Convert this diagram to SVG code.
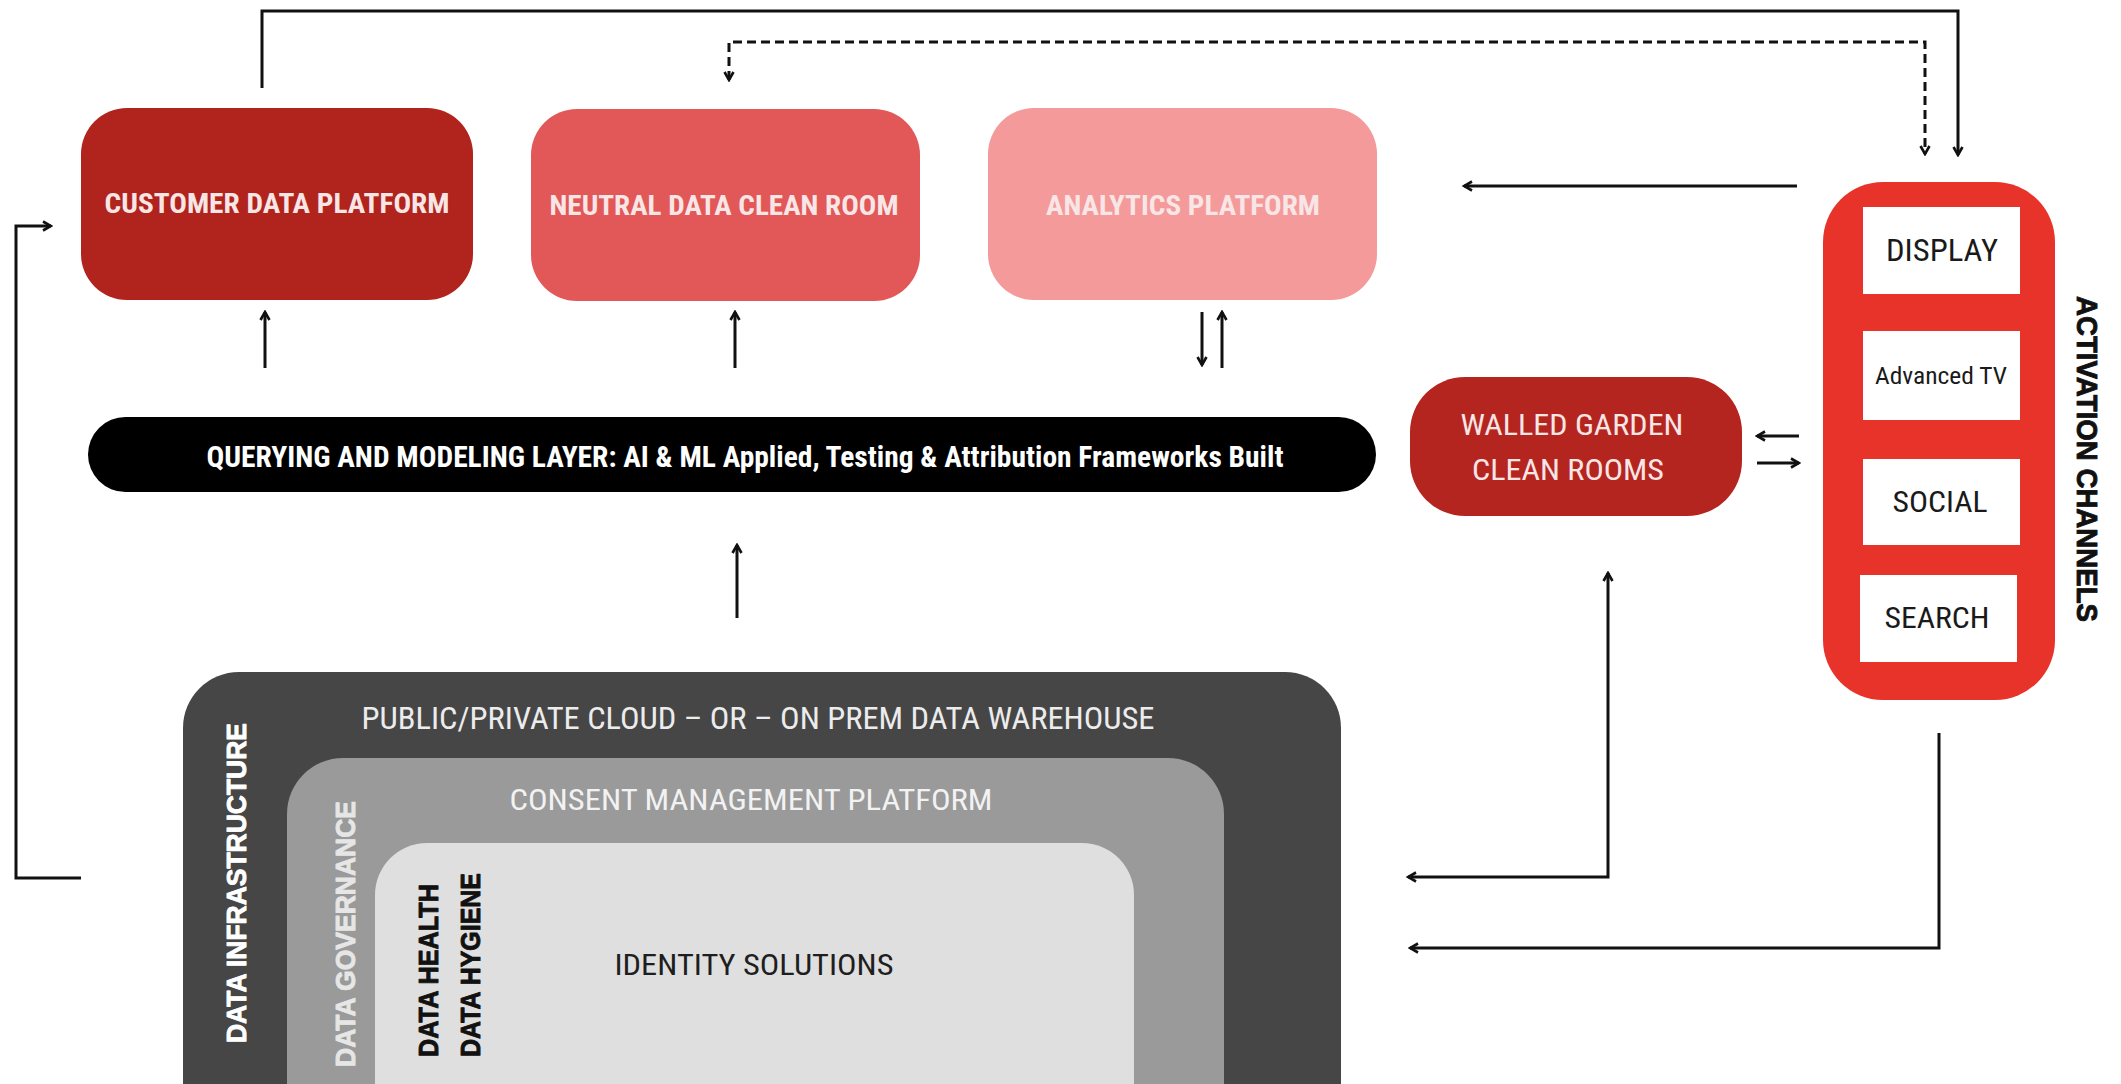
<svg xmlns="http://www.w3.org/2000/svg" width="2121" height="1084" viewBox="0 0 2121 1084">
  <defs>
    <marker id="arrow" viewBox="0 0 12 12" refX="10" refY="6" markerWidth="12" markerHeight="12" markerUnits="userSpaceOnUse" orient="auto-start-reverse">
      <path d="M2,1.5 L10,6 L2,10.5" fill="none" stroke="#111" stroke-width="2.6" stroke-linejoin="miter"/>
    </marker>
  </defs>
  <style>
    .cond { font-family: "Roboto Condensed", "Liberation Sans Narrow", Roboto, "Liberation Sans", sans-serif; }
    .bold { font-weight: 700; }
    .wide { font-family: "Liberation Sans", Arial, sans-serif; font-weight: 700; stroke-width: 0.9px; stroke-linejoin: round; }
    .pale { fill: #f8e6e6; }
    .line { fill: none; stroke: #111; stroke-width: 3; }
    .dash { fill: none; stroke: #111; stroke-width: 3; stroke-dasharray: 9 5; }
    .chan { fill: #ffffff; }
  </style>

  <rect width="2121" height="1084" fill="#ffffff"/>

  <!-- top row platforms -->
  <g id="customer-data-platform">
    <rect x="81" y="108" width="392" height="192" rx="46" fill="#b1231d"/>
    <text class="cond bold pale" x="277" y="213" font-size="28" text-anchor="middle" textLength="345" lengthAdjust="spacingAndGlyphs">CUSTOMER DATA PLATFORM</text>
  </g>
  <g id="neutral-data-clean-room">
    <rect x="531" y="109" width="389" height="192" rx="46" fill="#e25757"/>
    <text class="cond bold pale" x="724" y="215" font-size="28" text-anchor="middle" textLength="349" lengthAdjust="spacingAndGlyphs">NEUTRAL DATA CLEAN ROOM</text>
  </g>
  <g id="analytics-platform">
    <rect x="988" y="108" width="389" height="192" rx="46" fill="#f49a9a"/>
    <text class="cond bold pale" x="1183" y="215" font-size="28" text-anchor="middle" textLength="274" lengthAdjust="spacingAndGlyphs">ANALYTICS PLATFORM</text>
  </g>

  <!-- querying and modeling layer -->
  <g id="querying-layer">
    <rect x="88" y="417" width="1288" height="75" rx="37.5" fill="#000000"/>
    <text class="cond bold" x="745" y="467" font-size="30" fill="#ffffff" text-anchor="middle" textLength="1077" lengthAdjust="spacingAndGlyphs">QUERYING AND MODELING LAYER: AI &amp; ML Applied, Testing &amp; Attribution Frameworks Built</text>
  </g>

  <!-- walled garden clean rooms -->
  <g id="walled-garden">
    <rect x="1410" y="377" width="332" height="139" rx="55" fill="#b5251f"/>
    <text class="cond pale" x="1572" y="435" font-size="29" text-anchor="middle" textLength="223" lengthAdjust="spacingAndGlyphs">WALLED GARDEN</text>
    <text class="cond pale" x="1568" y="480" font-size="29" text-anchor="middle" textLength="192" lengthAdjust="spacingAndGlyphs">CLEAN ROOMS</text>
  </g>

  <!-- activation channels -->
  <g id="activation-channels">
    <rect x="1823" y="182" width="232" height="518" rx="60" fill="#e8332a"/>
    <rect class="chan" x="1863" y="207" width="157" height="87"/>
    <text class="cond" x="1942" y="261" font-size="32" fill="#1a1a1a" text-anchor="middle" textLength="112" lengthAdjust="spacingAndGlyphs">DISPLAY</text>
    <rect class="chan" x="1863" y="331" width="157" height="89"/>
    <text class="cond" x="1941" y="384" font-size="24" fill="#1a1a1a" text-anchor="middle" textLength="132" lengthAdjust="spacingAndGlyphs">Advanced TV</text>
    <rect class="chan" x="1863" y="459" width="157" height="86"/>
    <text class="cond" x="1940" y="512" font-size="30" fill="#1a1a1a" text-anchor="middle" textLength="95" lengthAdjust="spacingAndGlyphs">SOCIAL</text>
    <rect class="chan" x="1860" y="575" width="157" height="87"/>
    <text class="cond" x="1937" y="628" font-size="30" fill="#1a1a1a" text-anchor="middle" textLength="105" lengthAdjust="spacingAndGlyphs">SEARCH</text>
    <text class="wide" transform="translate(2077,296) rotate(90)" font-size="29" fill="#111" stroke="#111" textLength="326" lengthAdjust="spacingAndGlyphs">ACTIVATION CHANNELS</text>
  </g>

  <!-- nested data layers -->
  <g id="data-infrastructure">
    <rect x="183" y="672" width="1158" height="470" rx="56" fill="#464646"/>
    <text class="cond" x="758" y="729" font-size="32" fill="#ececec" text-anchor="middle" textLength="793" lengthAdjust="spacingAndGlyphs">PUBLIC/PRIVATE CLOUD – OR – ON PREM DATA WAREHOUSE</text>
    <text class="wide" transform="translate(246,1043) rotate(-90)" font-size="28" fill="#ffffff" stroke="#ffffff" textLength="320" lengthAdjust="spacingAndGlyphs">DATA INFRASTRUCTURE</text>
  </g>
  <g id="data-governance">
    <rect x="287" y="758" width="937" height="384" rx="56" fill="#9a9a9a"/>
    <text class="cond" x="751" y="810" font-size="30" fill="#f2f2f2" text-anchor="middle" textLength="483" lengthAdjust="spacingAndGlyphs">CONSENT MANAGEMENT PLATFORM</text>
    <text class="wide" transform="translate(355,1067) rotate(-90)" font-size="28" fill="#e6e6e6" stroke="#e6e6e6" textLength="266" lengthAdjust="spacingAndGlyphs">DATA GOVERNANCE</text>
  </g>
  <g id="identity-solutions">
    <rect x="375" y="843" width="759" height="300" rx="52" fill="#dfdfdf"/>
    <text class="cond" x="754" y="975" font-size="30" fill="#1e1e1e" text-anchor="middle" textLength="279" lengthAdjust="spacingAndGlyphs">IDENTITY SOLUTIONS</text>
    <text class="wide" transform="translate(438,1057) rotate(-90)" font-size="27" fill="#111" stroke="#111" textLength="173" lengthAdjust="spacingAndGlyphs">DATA HEALTH</text>
    <text class="wide" transform="translate(480,1057) rotate(-90)" font-size="27" fill="#111" stroke="#111" textLength="184" lengthAdjust="spacingAndGlyphs">DATA HYGIENE</text>
  </g>

  <!-- connectors -->
  <g id="connectors">
    <path class="line" d="M262,88 V11 H1958 V155" marker-end="url(#arrow)"/>
    <path class="dash" d="M729,80 V42 H1925 V154" marker-start="url(#arrow)" marker-end="url(#arrow)"/>
    <path class="line" d="M1797,186 H1464" marker-end="url(#arrow)"/>
    <path class="line" d="M265,368 V312" marker-end="url(#arrow)"/>
    <path class="line" d="M735,368 V312" marker-end="url(#arrow)"/>
    <path class="line" d="M1202,312 V365" marker-end="url(#arrow)"/>
    <path class="line" d="M1222,368 V312" marker-end="url(#arrow)"/>
    <path class="line" d="M737,618 V545" marker-end="url(#arrow)"/>
    <path class="line" d="M1799,436 H1757" marker-end="url(#arrow)"/>
    <path class="line" d="M1757,463 H1799" marker-end="url(#arrow)"/>
    <path class="line" d="M81,878 H16 V226 H51" marker-end="url(#arrow)"/>
    <path class="line" d="M1408,877 H1608 V573" marker-start="url(#arrow)" marker-end="url(#arrow)"/>
    <path class="line" d="M1939,733 V948 H1410" marker-end="url(#arrow)"/>
  </g>
</svg>
